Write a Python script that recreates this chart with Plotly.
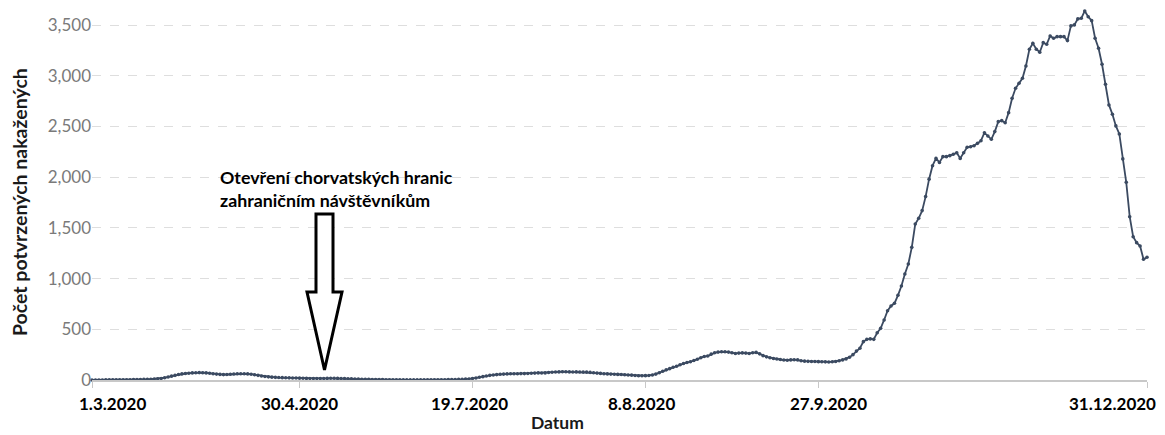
import pandas as pd
import plotly.graph_objects as go

# ---- data (daily values, 1.3.2020 - 31.12.2020) ----
start_date = "2020-03-01"
end_date = "2020-12-31"
cases = [
    # Mar 1 - Mar 20
    0, 0, 0, 0, 1, 1, 1, 1, 2, 2, 3, 3, 4, 4, 5, 6, 7, 8, 10, 12,
    # Mar 21 - Mar 27
    15, 22, 30, 38, 46, 54, 60,
    # Mar 28 - Apr 2
    64, 67, 70, 72, 73, 72,
    # Apr 3 - Apr 16
    70, 66, 62, 58, 55, 53, 54, 56, 59, 61, 62, 62, 60, 57,
    # Apr 17 - Apr 23
    52, 46, 40, 35, 31, 28, 26,
    # Apr 24 - May 6
    24, 23, 22, 21, 20, 19, 18, 17, 16, 15, 15, 14, 14,
    # May 7 - May 20
    15, 16, 17, 17, 16, 15, 14, 12, 11, 10, 9, 8, 7, 6,
    # May 21 - Jun 17
    5, 5, 4, 4, 3, 3, 2, 2, 2, 1, 1, 1, 1, 1, 1, 1, 2, 2, 2, 3, 3, 3, 4, 4, 5, 6, 7, 9,
    # Jun 18 - Jun 25
    10, 15, 20, 27, 33, 40, 46, 50,
    # Jun 26 - Jul 10
    53, 56, 58, 60, 61, 62, 62, 63, 63, 64, 66, 68, 70, 69, 70,
    # Jul 11 - Jul 24
    74, 77, 79, 80, 82, 81, 80, 79, 80, 79, 78, 78, 75, 72,
    # Jul 25 - Aug 5
    68, 65, 62, 60, 58, 56, 55, 54, 52, 50, 48, 45,
    # Aug 6 - Aug 10
    42, 42, 43, 45, 50,
    # Aug 11 - Aug 15
    58, 72, 86, 100, 112,
    # Aug 16 - Aug 26
    125, 135, 150, 162, 172, 180, 192, 205, 220, 232, 236,
    # Aug 27 - Sep 1
    255, 268, 275, 278, 278, 275,
    # Sep 2 - Sep 9
    268, 262, 265, 267, 265, 262, 268, 272,
    # Sep 10 - Sep 17
    258, 240, 228, 220, 212, 207, 202, 197,
    # Sep 18 - Sep 23
    195, 198, 200, 198, 190, 186,
    # Sep 24 - Sep 30
    184, 183, 182, 181, 180, 179, 178,
    # Oct 1 - Oct 8
    180, 183, 190, 198, 208, 225, 250, 285,
    # Oct 9 - Dec 31
    313, 378, 401, 405, 401, 466, 509, 592, 683, 730, 756, 835, 927, 1045,
    1144, 1308, 1538, 1594, 1670, 1808, 1980, 2113, 2185, 2145, 2202, 2202,
    2212, 2225, 2241, 2185, 2241, 2294, 2300, 2310, 2333, 2359, 2438, 2406,
    2373, 2449, 2547, 2557, 2537, 2636, 2777, 2876, 2925, 2975, 3096, 3261,
    3320, 3261, 3231, 3326, 3310, 3392, 3369, 3385, 3385, 3385, 3346, 3491,
    3501, 3560, 3566, 3638, 3582, 3543, 3369, 3270, 3113, 2916, 2712, 2620,
    2505, 2426, 2180, 1949, 1610, 1413, 1354, 1321, 1190, 1210,
]
dates = pd.date_range(start_date, end_date, freq="D")

tick_dates = ["2020-03-01", "2020-04-30", "2020-06-19", "2020-08-08", "2020-09-27", "2020-12-31"]
tick_texts = ["1.3.2020", "30.4.2020", "19.7.2020", "8.8.2020", "27.9.2020", "31.12.2020"]
label_dates = ["2020-03-07", "2020-04-30", "2020-06-18", "2020-08-07", "2020-09-30", "2020-12-21"]

y_ticks = [0, 500, 1000, 1500, 2000, 2500, 3000, 3500]

annotation_text = "Otevření chorvatských hranic<br>zahraničním návštěvníkům"
y_title = "Počet potvrzených nakažených"
x_title = "Datum"

# ---- layout geometry (page has an 8px body margin) ----
OFF = 8
W, H = 1165 - OFF, 435 - OFF
ML, MR, MT, MB = 84, 18, 0, 55
PW, PH = W - ML - MR, H - MT - MB
Y_MAX = 3500 * PH / 355.0


def px(xp):
    # page pixel x -> paper coordinate
    return (xp - OFF - ML) / PW


def py(yp):
    # page pixel y -> paper coordinate
    return (H - MB - (yp - OFF)) / PH


LINE_COLOR = "#3b4a61"
BOLD_FONT = "Lato"

fig = go.Figure()
fig.add_trace(go.Scatter(
    x=dates, y=cases[:len(dates)], mode="lines+markers",
    line=dict(color=LINE_COLOR, width=1.8),
    marker=dict(color=LINE_COLOR, size=3.6),
    cliponaxis=False, showlegend=False,
))

fig.update_layout(
    width=W, height=H,
    margin=dict(l=ML, r=MR, t=MT, b=MB, pad=0),
    plot_bgcolor="white", paper_bgcolor="white",
    font=dict(family="Lato", color="#777777"),
)
fig.update_xaxes(
    type="date", range=[start_date, end_date],
    tickvals=tick_dates, ticktext=tick_texts, showticklabels=False,
    ticks="outside", ticklen=6, tickcolor="#c8c8c8", tickwidth=1,
    showline=True, linecolor="#c8c8c8", linewidth=1.5,
    showgrid=False, zeroline=False,
)
fig.update_yaxes(
    range=[0, Y_MAX], tickvals=y_ticks, tickformat=",",
    tickfont=dict(family="Lato", size=17, color="#7a7a7a"),
    showgrid=True, gridcolor="#dedede", griddash="dash", gridwidth=1,
    zeroline=False, showline=False, ticks="",
)

# tick labels (bold, black)
for d, t in zip(label_dates, tick_texts):
    fig.add_annotation(
        x=d, xref="x", y=py(403), yref="paper", text=t, showarrow=False,
        font=dict(family=BOLD_FONT, size=17, color="black", weight="bold"),
        xanchor="center", yanchor="middle",
    )

# axis titles
fig.add_annotation(
    x=px(557), xref="paper", y=py(423), yref="paper", text=x_title, showarrow=False,
    font=dict(family=BOLD_FONT, size=17.5, color="#1a1a1a", weight="bold"),
    xanchor="center", yanchor="middle",
)
fig.add_annotation(
    x=px(19), xref="paper", y=py(202), yref="paper", text=y_title, showarrow=False,
    textangle=-90,
    font=dict(family=BOLD_FONT, size=19.5, color="#1a1a1a", weight="bold"),
    xanchor="center", yanchor="middle",
)

# event annotation
fig.add_annotation(
    x=px(218), xref="paper", y=py(188), yref="paper", text=annotation_text,
    showarrow=False, align="left",
    font=dict(family=BOLD_FONT, size=17.8, color="black", weight="bold"),
    xanchor="left", yanchor="middle",
)

# hollow block arrow
pts = [(316, 214), (333, 214), (333, 292), (342, 292), (324.5, 370),
       (307, 292), (316, 292)]
path = "M " + " L ".join(f"{px(a):.5f},{py(b):.5f}" for a, b in pts) + " Z"
fig.add_shape(type="path", path=path, xref="paper", yref="paper",
              line=dict(color="black", width=3), fillcolor="white", layer="above")

fig.write_html("out.html")
